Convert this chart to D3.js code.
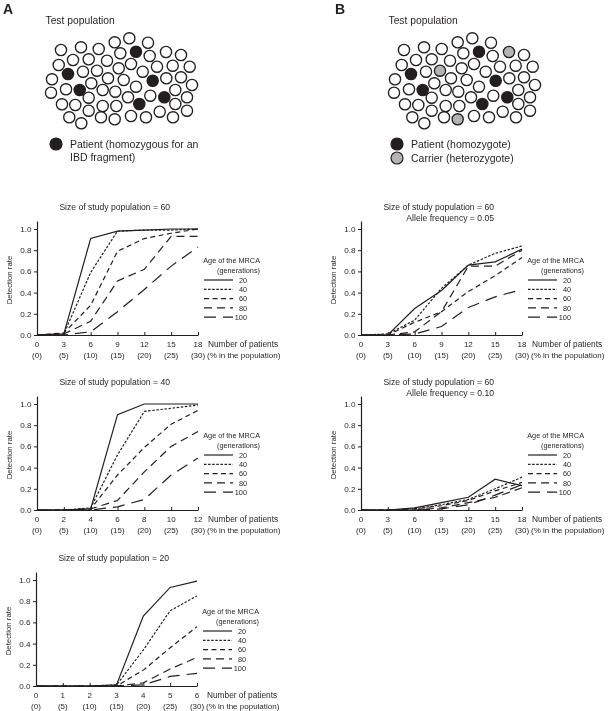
<!DOCTYPE html>
<html><head><meta charset="utf-8">
<script src="https://cdn.jsdelivr.net/npm/d3@7"></script>
<style>
body{margin:0;background:#fff}
svg{display:block;will-change:transform}
text{font-family:"Liberation Sans",Arial,Helvetica,sans-serif;fill:#231f20}
</style>
</head><body>
<svg id="fig" width="613" height="711"></svg>
<script>
// ---------- data ----------
const ageLabels = ["20", "40", "60", "80", "100"];
const yTicks = [0, 0.2, 0.4, 0.6, 0.8, 1.0];
const pctLabels = ["(0)", "(5)", "(10)", "(15)", "(20)", "(25)", "(30)"];
const xTicks60 = [0, 3, 6, 9, 12, 15, 18];
const xTicks40 = [0, 2, 4, 6, 8, 10, 12];
const xTicks20 = [0, 1, 2, 3, 4, 5, 6];

// Panel A, study population 60 (rows: MRCA age 20,40,60,80,100)
const a60 = [
  [0, 0.01, 0.91, 0.98, 0.99, 1.00, 1.00],
  [0, 0.01, 0.59, 0.98, 0.99, 0.99, 1.00],
  [0, 0.02, 0.28, 0.79, 0.91, 0.96, 1.00],
  [0, 0.01, 0.13, 0.51, 0.62, 0.93, 0.93],
  [0, 0.00, 0.03, 0.22, 0.43, 0.65, 0.83]
];
// Panel A, study population 40
const a40 = [
  [0, 0, 0.01, 0.90, 1.00, 1.00, 1.00],
  [0, 0, 0.02, 0.52, 0.93, 0.96, 0.99],
  [0, 0, 0.01, 0.33, 0.59, 0.81, 0.94],
  [0, 0, 0.01, 0.09, 0.36, 0.60, 0.74],
  [0, 0, 0.00, 0.03, 0.10, 0.33, 0.49]
];
// Panel A, study population 20
const a20 = [
  [0, 0, 0, 0.01, 0.66, 0.93, 0.99],
  [0, 0, 0, 0.01, 0.34, 0.71, 0.85],
  [0, 0, 0, 0.00, 0.15, 0.36, 0.56],
  [0, 0, 0, 0.00, 0.03, 0.16, 0.27],
  [0, 0, 0, 0.00, 0.01, 0.09, 0.12]
];
// Panel B, study population 60, allele frequency 0.05
const b05 = [
  [0, 0, 0.25, 0.42, 0.66, 0.69, 0.81],
  [0, 0.01, 0.14, 0.44, 0.66, 0.77, 0.84],
  [0, 0, 0.12, 0.22, 0.41, 0.56, 0.73],
  [0, 0, 0.03, 0.22, 0.65, 0.65, 0.80],
  [0, 0, 0.01, 0.08, 0.26, 0.36, 0.43]
];
// Panel B, study population 60, allele frequency 0.10
const b10 = [
  [0, 0, 0.02, 0.07, 0.12, 0.29, 0.23],
  [0, 0, 0.01, 0.05, 0.10, 0.20, 0.31],
  [0, 0, 0.01, 0.04, 0.09, 0.18, 0.26],
  [0, 0, 0.00, 0.02, 0.07, 0.12, 0.21],
  [0, 0, 0.00, 0.01, 0.05, 0.14, 0.24]
];

// Test population illustration (schematic layout of 60 individuals)
const popX = [114.7,129.3,148,61,81,98.7,120.3,136,149.7,166,181,58.7,73,88.7,107,118.7,131,142.7,157,172.7,189.7,68,83,97,108,123.7,136,152.7,166.3,181,52,66,79.7,91.3,102.7,115.3,128,139.3,150.3,164.3,175.3,192,51,62,75.3,88.7,102.7,116.3,131,146,159.7,175.3,187,69.3,81.3,88.7,101,114.7,173,187];
const popY = [42.3,38.3,42.7,50,47.3,49,53.3,51.7,56,52,55,65,60,59.3,60.7,68.3,64,71.7,66.7,65.7,66.7,74,71.7,70.7,78.3,80,86.7,80.7,78.3,77.3,79.3,89.3,90,83.3,90,91.7,97.3,104,95.7,97.3,90,85,92.7,104.3,105,97.7,106,106,116,117.3,111.7,104,97.3,117.3,123.3,110.7,117.3,119.3,117.3,110.7];
const patientIdx = [7, 21, 27, 32, 37, 39];
const carrierIdx = [9, 23, 57];

// ---------- styles ----------
const ink = "#231f20";
const dashStyles = [null, "2.5,1.6", "5,3.5", "8,5", "12,7"];
const tickFont = 8.0;
const labelFont = 8.3;

const svg = d3.select("#fig");

// ---------- panel letters & illustrations ----------
svg.append("text").attr("x", 3).attr("y", 14).attr("font-size", 14).attr("font-weight", "bold").text("A");
svg.append("text").attr("x", 335).attr("y", 14).attr("font-size", 14).attr("font-weight", "bold").text("B");

function population(dx, withCarriers) {
  const g = svg.append("g").attr("transform", `translate(${dx},0)`);
  g.append("text").attr("x", 45.5).attr("y", 23.5).attr("font-size", 10.3).text("Test population");
  const idx = d3.range(popX.length);
  g.selectAll("circle").data(idx).join("circle")
    .attr("cx", i => popX[i]).attr("cy", i => popY[i]).attr("r", 5.6)
    .attr("stroke", ink).attr("stroke-width", 1.35)
    .attr("fill", i => patientIdx.includes(i) ? ink : (withCarriers && carrierIdx.includes(i) ? "#b3b3b3" : "#fff"));
}
population(0, false);
population(343, true);

// legends of illustrations
function dotLegend(cx, cy, fill, label) {
  svg.append("circle").attr("cx", cx).attr("cy", cy).attr("r", 6).attr("fill", fill).attr("stroke", ink).attr("stroke-width", 1.2);
  svg.append("text").attr("x", cx + 14).attr("y", cy + 3.8).attr("font-size", 10.5).text(label);
}
dotLegend(56, 144, ink, "Patient (homozygous for an");
svg.append("text").attr("x", 70).attr("y", 160.5).attr("font-size", 10.5).text("IBD fragment)");
dotLegend(397, 144, ink, "Patient (homozygote)");
dotLegend(397, 158, "#b3b3b3", "Carrier (heterozygote)");

// ---------- line charts ----------
function chart(ox, oy, xt, data, titles) {
  const g = svg.append("g");
  const x = d3.scaleLinear().domain([xt[0], xt[xt.length - 1]]).range([ox, ox + 161]);
  const y = d3.scaleLinear().domain([0, 1.075]).range([oy, oy - 106 * 1.075]);

  // titles (right aligned)
  titles.forEach((t, i) => {
    g.append("text").attr("x", ox + 133).attr("y", oy - 125 + i * 10.6)
      .attr("text-anchor", "end").attr("font-size", 8.6).text(t);
  });

  // y axis
  const ya = g.append("g").attr("transform", `translate(${ox},0)`)
    .call(d3.axisLeft(y).tickValues(yTicks).tickSizeInner(3).tickSizeOuter(0).tickPadding(2.5)
      .tickFormat(d3.format(".1f")));
  ya.select(".domain").attr("stroke", ink).attr("stroke-width", 1.2);
  ya.selectAll(".tick line").attr("stroke", ink).attr("stroke-width", 1);
  ya.selectAll(".tick text").attr("font-size", 8.1).attr("font-family", null).attr("fill", ink);

  // x axis
  const xa = g.append("g").attr("transform", `translate(0,${oy})`)
    .call(d3.axisBottom(x).tickValues(xt).tickSizeInner(-3).tickSizeOuter(0).tickFormat(""));
  xa.select(".domain").attr("stroke", ink).attr("stroke-width", 1.2);
  xa.selectAll(".tick line").attr("stroke", ink).attr("stroke-width", 1);

  g.selectAll(".xl1").data(xt).join("text").attr("class", "xl1")
    .attr("x", d => x(d)).attr("y", oy + 12).attr("text-anchor", "middle")
    .attr("font-size", tickFont).text(d => d);
  g.selectAll(".xl2").data(xt).join("text").attr("class", "xl2")
    .attr("x", d => x(d)).attr("y", oy + 23).attr("text-anchor", "middle")
    .attr("font-size", tickFont).text((d, i) => pctLabels[i]);
  g.append("text").attr("x", ox + 171).attr("y", oy + 12).attr("font-size", labelFont).text("Number of patients");
  g.append("text").attr("x", ox + 170).attr("y", oy + 23).attr("font-size", 8.0).text("(% in the population)");

  // y label
  g.append("text").attr("transform", `translate(${ox - 25},${oy - 55}) rotate(-90)`)
    .attr("text-anchor", "middle").attr("font-size", 7.8).text("Detection rate");

  // series
  const line = d3.line().x((d, i) => x(xt[i])).y(d => y(d));
  data.forEach((s, k) => {
    g.append("path").attr("d", line(s)).attr("fill", "none")
      .attr("stroke", ink).attr("stroke-width", 1.2)
      .attr("stroke-dasharray", dashStyles[k]);
  });

  // legend
  const lx = ox + 223;
  g.append("text").attr("x", lx).attr("y", oy - 72).attr("text-anchor", "end").attr("font-size", 7.3).text("Age of the MRCA");
  g.append("text").attr("x", lx).attr("y", oy - 62.5).attr("text-anchor", "end").attr("font-size", 7.3).text("(generations)");
  ageLabels.forEach((a, k) => {
    const ly = oy - 55 + k * 9.3;
    g.append("line").attr("x1", ox + 167).attr("x2", ox + 196).attr("y1", ly).attr("y2", ly)
      .attr("stroke", ink).attr("stroke-width", 1.2).attr("stroke-dasharray", dashStyles[k]);
    g.append("text").attr("x", ox + 210).attr("y", ly + 2.6).attr("text-anchor", "end")
      .attr("font-size", 7.3).text(a);
  });
}

chart(37, 335, xTicks60, a60, ["Size of study population = 60"]);
chart(37, 510, xTicks40, a40, ["Size of study population = 40"]);
chart(36, 686, xTicks20, a20, ["Size of study population = 20"]);
chart(361, 335, xTicks60, b05, ["Size of study population = 60", "Allele frequency = 0.05"]);
chart(361, 510, xTicks60, b10, ["Size of study population = 60", "Allele frequency = 0.10"]);
</script>
</body></html>
